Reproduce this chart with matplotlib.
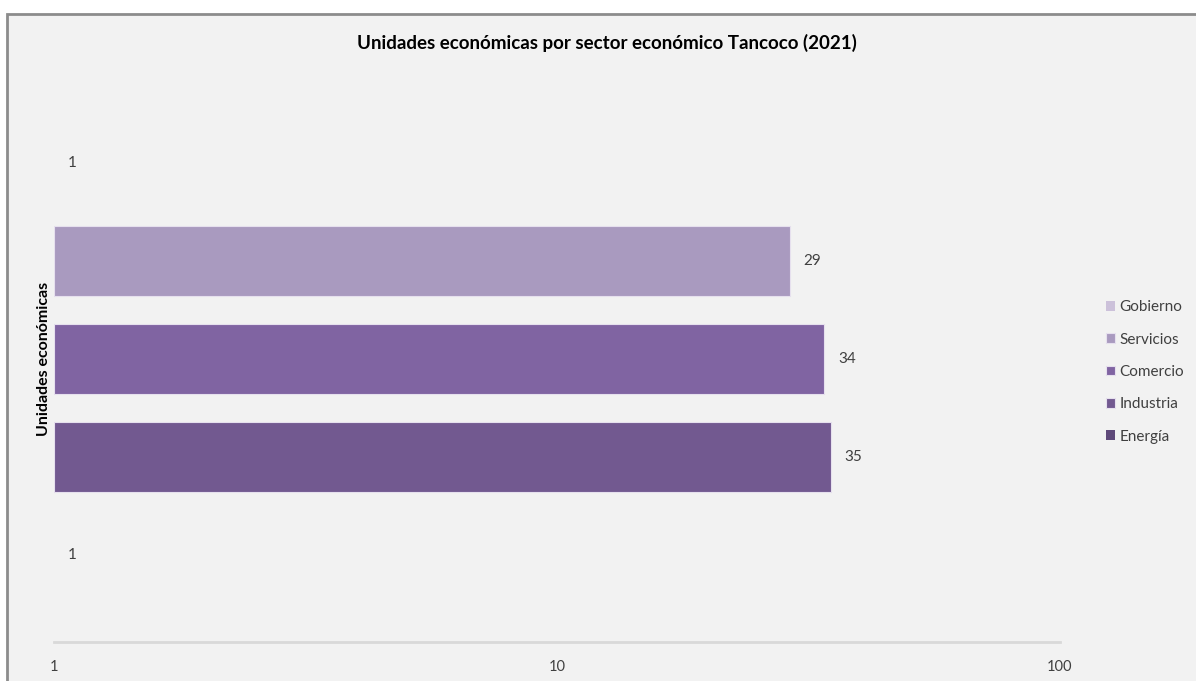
import numpy as np
import matplotlib.pyplot as plt
from matplotlib.patches import Rectangle

plt.rcParams['font.family'] = ['Lato', 'DejaVu Sans']

sectores = ['Gobierno', 'Servicios', 'Comercio', 'Industria', 'Energía']
unidades = [1, 29, 34, 35, 1]
colores = ['#CCC1DA', '#A99ABF', '#8064A2', '#725990', '#5F4A7A']

W, H = 1196, 681
fig = plt.figure(figsize=(W / 100, H / 100), dpi=100)
fig.patch.set_facecolor('white')

# marco gris del grafico
fig.patches.append(Rectangle((7 / W, -0.05), 1.1, 1 - 14 / H + 0.05, transform=fig.transFigure,
                             facecolor='#F2F2F2', edgecolor='#8C8C8C', linewidth=2, zorder=-5))

ax = fig.add_axes([54 / W, 39 / H, (1060 - 54) / W, (642 - 76) / H])
ax.set_facecolor('none')

pos = np.arange(len(sectores))
for i, (s, v, c) in enumerate(zip(sectores, unidades, colores)):
    # las barras parten de 1 (eje logaritmico)
    ax.barh(pos[i], v - 1, left=1, height=0.71, color=c,
            edgecolor='#E6E0EE' if v > 1 else 'none', linewidth=0.8, label=s)
    ax.text(v * 1.066, pos[i], str(v), va='center', ha='left', fontsize=11, color='#404040')

ax.set_xscale('log')
ax.set_xlim(1, 100)
ax.set_ylim(4.89, -0.89)
ax.set_xticks([1, 10, 100])
ax.set_xticklabels(['1', '10', '100'])
ax.tick_params(axis='x', length=0, pad=13, labelsize=10.5, colors='#404040')
ax.minorticks_off()
ax.set_yticks([])
for sp in ['top', 'right', 'left']:
    ax.spines[sp].set_visible(False)
ax.spines['bottom'].set_color('#D9D9D9')
ax.spines['bottom'].set_linewidth(2)

ax.set_ylabel('Unidades económicas', fontsize=11.5, fontweight='bold', labelpad=2)

fig.text(607 / W, 1 - 43 / H, 'Unidades económicas por sector económico Tancoco (2021)',
         ha='center', va='center', fontsize=13.5, fontweight='bold')

ax.legend(loc='center left', bbox_to_anchor=(1.032, 0.477), frameon=False, fontsize=11,
          handlelength=0.6, handleheight=0.6, handletextpad=0.3, labelspacing=1.2,
          labelcolor='#404040')

fig.savefig('out.png', dpi=100, facecolor=fig.get_facecolor())
